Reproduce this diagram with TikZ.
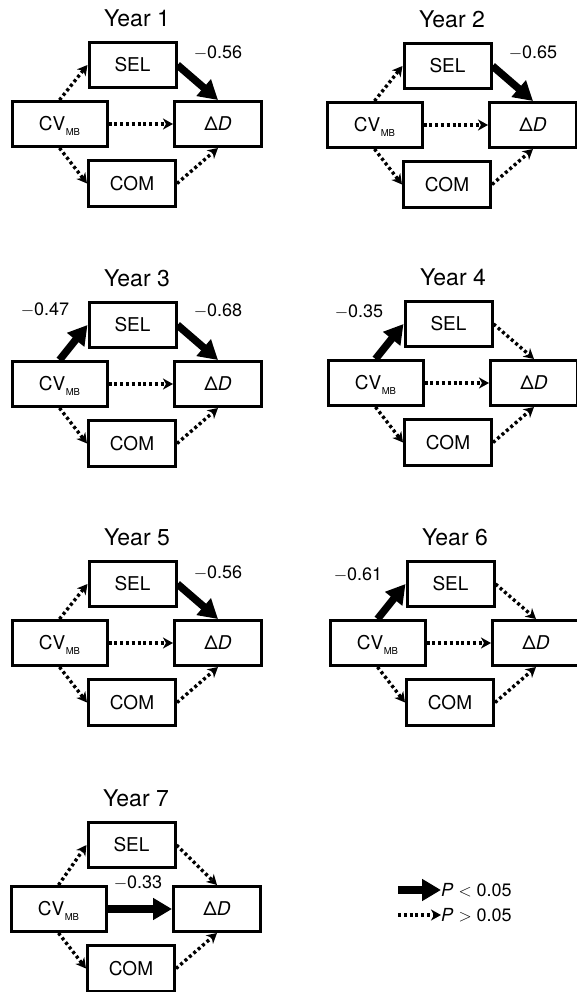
\documentclass[tikz,border=0pt]{standalone}
\usepackage{fontspec}
\setmainfont{TeX Gyre Heros}
\usetikzlibrary{arrows.meta}
\tikzset{
  box/.style={draw, line width=3pt, minimum width=87pt, minimum height=45pt, inner sep=0pt, font=\fontsize{19}{21}\selectfont},
  ttl/.style={font=\fontsize{23}{25}\selectfont, inner sep=0pt},
  coef/.style={font=\fontsize{18}{20}\selectfont, inner sep=0pt},
  ns/.style={line width=3.4pt, dash pattern=on 3pt off 2.8pt, -{Stealth[length=10pt,width=11pt,inset=3pt]}},
  sig/.style={line width=7.5pt, -{Triangle[length=19pt,width=21pt]}},
}
\newcommand{\ypanel}[8]{%
  \begin{scope}[shift={(#1,#2)}]
    \node[ttl] (#3t) at (137,18) {Year #4};
    \node[box] (#3s) at (132.5,65) {SEL};
    \node[box, minimum width=95pt] (#3c) at (59.5,124+#8) {CV\kern0.5pt\raisebox{-5pt}[0pt][0pt]{\fontsize{9.5}{10}\selectfont MB}};
    \node[box] (#3d) at (218,124+#8) {Δ\textit{D}};
    \node[box, minimum height=46pt] (#3m) at (132,183.5+#8) {COM};
    \draw[#5] (#3c.north) -- (#3s.west);
    \draw[ns] (#3c.south) -- (#3m.west);
    \draw[#6] (#3c.east) -- (#3d.west);
    \draw[#7] (#3s.east) -- (#3d.north);
    \draw[ns] (#3m.east) -- (#3d.south);
  \end{scope}}
\begin{document}
\begin{tikzpicture}[x=1pt,y=-1pt]
  \fill[white] (0,0) rectangle (577,992);
  \useasboundingbox (0,0) rectangle (577,992);
  \ypanel{0}{0}{a}{1}{ns}{ns}{sig}{0}
  \ypanel{315}{1}{b}{2}{ns}{ns}{sig}{0}
  \ypanel{0}{260}{c}{3}{sig}{ns}{sig}{0}
  \ypanel{316}{259}{d}{4}{sig}{ns}{ns}{0}
  \ypanel{0}{519}{e}{5}{ns}{ns}{sig}{0}
  \ypanel{318}{519}{f}{6}{sig}{ns}{ns}{0}
  \ypanel{-1}{780}{g}{7}{ns}{sig}{ns}{5}
  \node[coef] (l1) at (218,53) {$-$0.56};
  \node[coef] (l2) at (533,53) {$-$0.65};
  \node[coef] (l3a) at (45,310) {$-$0.47};
  \node[coef] (l3b) at (218,311) {$-$0.68};
  \node[coef] (l4) at (359,312) {$-$0.35};
  \node[coef] (l5) at (218,573) {$-$0.56};
  \node[coef] (l6) at (358,575) {$-$0.61};
  \node[coef] (l7) at (138,883) {$-$0.33};
  \coordinate (g1) at (398,890);
  \coordinate (g2) at (398,915);
  \node[coef, anchor=west] (g1t) at (441,890) {\textit{P} $<$ 0.05};
  \node[coef, anchor=west] (g2t) at (441,915) {\textit{P} $>$ 0.05};
  \draw[sig] (g1) -- (g1t.west);
  \draw[ns] (g2) -- (g2t.west);
\end{tikzpicture}
\end{document}
